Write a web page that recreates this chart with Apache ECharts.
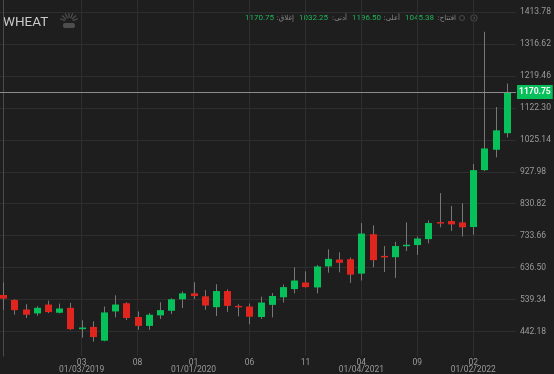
<!DOCTYPE html>
<html><head><meta charset="utf-8">
<script src="https://cdn.jsdelivr.net/npm/echarts@6/dist/echarts.min.js"></script>
<style>html,body{margin:0;padding:0;background:#1e1e1e;}#c{width:554px;height:374px;}</style>
</head><body><div id="c"></div>
<script>
// ---- data (monthly candles) ----
const months = ['2018-08','2018-09','2018-10','2018-11','2018-12',
  '2019-01','2019-02','2019-03','2019-04','2019-05','2019-06','2019-07','2019-08','2019-09','2019-10','2019-11','2019-12',
  '2020-01','2020-02','2020-03','2020-04','2020-05','2020-06','2020-07','2020-08','2020-09','2020-10','2020-11','2020-12',
  '2021-01','2021-02','2021-03','2021-04','2021-05','2021-06','2021-07','2021-08','2021-09','2021-10','2021-11','2021-12',
  '2022-01','2022-02','2022-03','2022-04','2022-05'];
const openV  = [553,538,509,497,524, 499,514,449,456,414,503,528,486,459,491,505,540, 558,549,516,565,520,518,486,523,546,571,591,576, 640,661,662,618,738,672,668,702,705,723,775,778, 774,760,933,995,1045.38];
const closeV = [542,507,493,514,501, 512,449,454,425,500,524,483,459,493,507,540,558, 550,521,565,520,517,487,530,550,577,597,577,640, 663,651,615,740,659,668,702,706,725,772,771,768, 759,933,999,1054,1170.75];
const lowV   = [508,493,483,490,498, 497,447,423,411,412,485,477,447,447,480,495,513, 541,508,489,502,488,464,480,485,530,558,576,558, 621,622,590,597,637,623,605,687,675,710,759,748, 731,736,930,972,1032.25];
const highV  = [591,540,525,519,536, 527,529,476,473,518,552,531,503,498,531,543,564, 592,568,586,570,525,527,548,559,585,637,625,644, 692,683,667,772,765,702,715,774,731,780,863,824, 832,952,1354,1125,1196.50];
const yTicks = [442.18,539.34,636.50,733.66,830.82,927.98,1025.14,1122.30,1219.46,1316.62,1413.78];
const xGridMonths = ['2018-08','2019-03','2019-08','2020-01','2020-06','2020-11','2021-04','2021-09','2022-02'];
const xLabelMonths = ['2019-03','2019-08','2020-01','2020-06','2020-11','2021-04','2021-09','2022-02'];
const xTopLabels = ['03','08','01','06','11','04','09','02'];
const xBottomLabels = ['01/03/2019','','01/01/2020','','','01/04/2021','','01/02/2022'];
const symbolName = 'WHEAT';
const quoteLabels = ['افتتاح','أعلى','أدنى','إغلاق'];

// ---- styles ----
const FONT = "Roboto,sans-serif";
const ARFONT = "'DejaVu Sans',sans-serif";
const GREEN = '#06c15a', RED = '#e0251e', GRID = '#2e2e2e', TXT = '#9a9a9a', TXTG = '#1fb457';
const NUM_SIZE = 8, AR_SIZE = 7;

const last = months.length - 1;
const fmt = v => Number(v).toFixed(2);
const q = [openV[last], highV[last], lowV[last], closeV[last]];

// header laid out right-to-left from a right anchor: label(open) number(open) label(high) number(high) ...
const mctx = document.createElement('canvas').getContext('2d');
const measure = (t, size, fam) => { mctx.font = size + 'px ' + fam; return mctx.measureText(t).width; };
const headerEls = [];
let xr = 456;
[0, 1, 2, 3].forEach(qi => {
  const lab = ':' + quoteLabels[qi];
  headerEls.push({type:'text', silent:true, x:Math.round(xr), y:18,
    style:{text:lab, fill:'#8a8a8a', fontSize:AR_SIZE, fontFamily:ARFONT, verticalAlign:'middle', align:'right'}});
  xr -= measure(lab, AR_SIZE, ARFONT) + 3;
  const num = fmt(q[qi]);
  headerEls.push({type:'text', silent:true, x:Math.round(xr), y:18,
    style:{text:num, fill:TXTG, fontSize:NUM_SIZE, fontFamily:FONT, verticalAlign:'middle', align:'right'}});
  xr -= measure(num, NUM_SIZE, FONT) + 5;
});

const fanRays = [];
[-160,-137,-113,-90,-67,-43,-20].forEach(a => {
  const r = a * Math.PI / 180;
  fanRays.push({type:'line', silent:true, shape:{x1:69+Math.cos(r)*4, y1:22+Math.sin(r)*4, x2:69+Math.cos(r)*9.5, y2:22+Math.sin(r)*9.5},
    style:{stroke:'#4e4e4e', lineWidth:1.2}});
});

const chart = echarts.init(document.getElementById('c'), null, {renderer:'canvas'});
chart.setOption({
  backgroundColor:'#1e1e1e',
  animation:false,
  grid:{left:0, right:38, top:0, bottom:16},
  xAxis:{
    type:'value', min:-0.295, max:45.82,
    axisLine:{show:false}, axisTick:{show:false, customValues: xGridMonths.map(m => months.indexOf(m))},
    splitLine:{show:true, lineStyle:{color:GRID, width:1}},
    axisLabel:{
      customValues: xLabelMonths.map(m => months.indexOf(m)),
      formatter: v => { const k = xLabelMonths.indexOf(months[Math.round(v)]); if (k < 0) return ''; return xBottomLabels[k] ? xTopLabels[k] + '\n' + xBottomLabels[k] : xTopLabels[k]; },
      color:TXT, fontSize:8.5, fontFamily:FONT, lineHeight:7, margin:3
    }
  },
  yAxis:{
    type:'value', position:'right', min:367.4, max:1450.7,
    axisLine:{show:true, lineStyle:{color:'#4a4a4a'}},
    axisTick:{show:false, customValues:yTicks},
    splitLine:{show:true, lineStyle:{color:GRID, width:1}},
    axisLabel:{customValues:yTicks, formatter: v => fmt(v), color:TXT, fontSize:8.5, fontFamily:FONT, margin:4}
  },
  series:[
    {
      type:'custom', clip:true,
      encode:{x:0, y:[1,2,3,4]},
      data: months.map((m,i) => [i, openV[i], closeV[i], lowV[i], highV[i]]),
      renderItem(params, api){
        const i = api.value(0), o = api.value(1), c = api.value(2), l = api.value(3), h = api.value(4);
        const top = api.coord([i, Math.max(o,c)]), bot = api.coord([i, Math.min(o,c)]);
        const hi = api.coord([i,h]), lo = api.coord([i,l]);
        const cx = Math.round(top[0]) + 0.5, bw = 7;
        return {type:'group', children:[
          {type:'line', shape:{x1:cx, y1:hi[1], x2:cx, y2:lo[1]}, style:{stroke:'#777777', lineWidth:1}},
          {type:'rect', shape:{x:cx-bw/2, y:top[1], width:bw, height:Math.max(bot[1]-top[1], 1.5)}, style:{fill: c >= o ? GREEN : RED}}
        ]};
      }
    },
    {
      type:'line', silent:true, symbol:'none', lineStyle:{opacity:0},
      data: months.map((m,i) => [i, closeV[i]]),
      markLine:{
        silent:true, symbol:['none','none'], animation:false,
        data:[{yAxis: closeV[last]}],
        lineStyle:{color:'#8c8c8c', width:1, type:'solid'},
        label:{position:'end', formatter: p => fmt(p.value), color:'#ffffff', fontWeight:'bold', fontSize:8.5, fontFamily:FONT,
               backgroundColor:GREEN, padding:[3,2,2,2], distance:1}
      }
    }
  ],
  graphic:[
    {type:'text', x:3, y:23, silent:true, style:{text:symbolName, fill:'#c8c8c8', fontSize:13.5, fontFamily:FONT, verticalAlign:'middle'}},
    ...fanRays,
    {type:'rect', silent:true, shape:{x:63, y:23, width:12, height:5, r:2}, style:{fill:'#4e4e4e'}},
    ...headerEls,
    {type:'circle', silent:true, shape:{cx:462, cy:18, r:2.5}, style:{fill:'none', stroke:'#4a4a4a', lineWidth:1}},
    {type:'circle', silent:true, shape:{cx:474, cy:18, r:3.2}, style:{fill:'none', stroke:'#4a4a4a', lineWidth:1}},
    {type:'circle', silent:true, shape:{cx:474, cy:18, r:1.2}, style:{fill:'#4a4a4a'}}
  ]
});
</script></body></html>
